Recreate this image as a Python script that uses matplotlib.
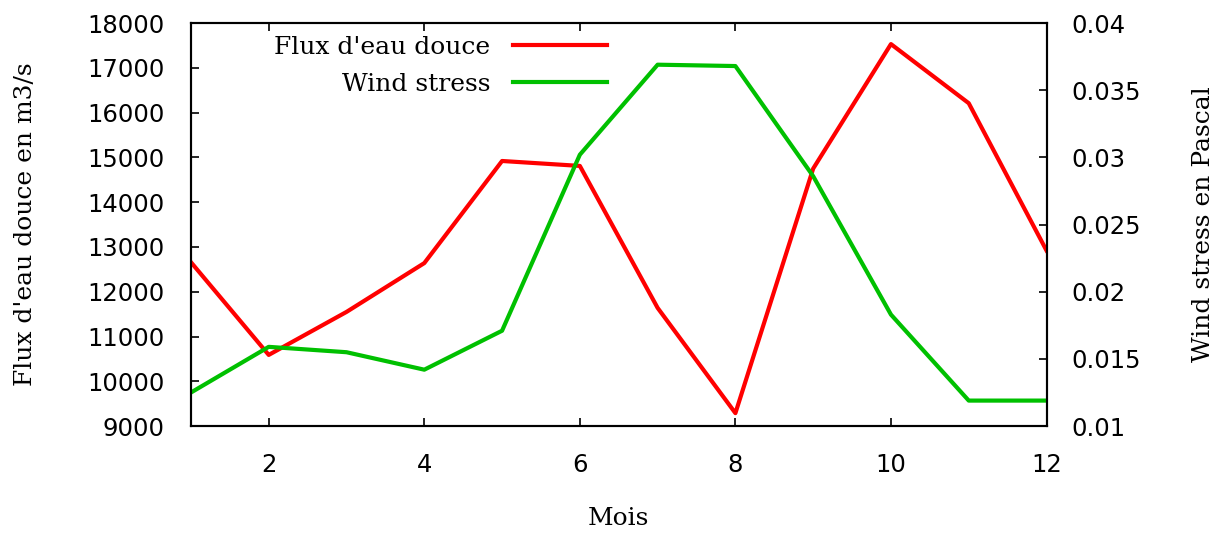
"""Flux d'eau douce et wind stress par mois (deux axes y)"""
import matplotlib
matplotlib.use('Agg')
import matplotlib.pyplot as plt

mois = [1, 2, 3, 4, 5, 6, 7, 8, 9, 10, 11, 12]
flux = [12660, 10590, 11550, 12640, 14920, 14810, 11640, 9290, 14750, 17530, 16210, 12920]
wind = [0.0125, 0.0159, 0.0155, 0.0142, 0.0171, 0.0302, 0.0369, 0.0368, 0.0286, 0.0183, 0.0119, 0.0119]

x_ticks = [2, 4, 6, 8, 10, 12]
flux_ticks = list(range(9000, 18001, 1000))
wind_ticks = [0.01, 0.015, 0.02, 0.025, 0.03, 0.035, 0.04]
wind_labels = ["0.01", "0.015", "0.02", "0.025", "0.03", "0.035", "0.04"]

serif = "DejaVu Serif"
tick_size = 17.5
label_size = 18

fig = plt.figure(figsize=(12.24, 5.36), dpi=100)
ax = fig.add_axes([0.156, 0.205, 0.699, 0.752])
ax2 = ax.twinx()

l1, = ax.plot(mois, flux, color="#ff0000", lw=3, label="Flux d'eau douce")
l2, = ax2.plot(mois, wind, color="#00c000", lw=3, label="Wind stress")

ax.set_xlim(1, 12)
ax.set_ylim(9000, 18000)
ax2.set_ylim(0.01, 0.04)
ax.set_xticks(x_ticks)
ax.set_yticks(flux_ticks)
ax2.set_yticks(wind_ticks)
ax2.set_yticklabels(wind_labels)

ax.tick_params(direction="in", length=6, width=1.2, labelsize=tick_size, top=True, pad=19)
ax.tick_params(axis="x", pad=19)
ax2.tick_params(direction="in", length=6, width=1.2, labelsize=tick_size, pad=18)
for a in (ax, ax2):
    for s in a.spines.values():
        s.set_linewidth(1.5)

ax.set_xlabel("Mois", fontsize=label_size, family=serif, va="center")
ax.set_ylabel("Flux d'eau douce en m3/s", fontsize=label_size, family=serif, va="center")
ax2.set_ylabel("Wind stress en Pascal", fontsize=label_size, family=serif, va="center")
ax.xaxis.set_label_coords(0.5, -0.228)
ax.yaxis.set_label_coords(-0.193, 0.5)
ax2.yaxis.set_label_coords(1.183, 0.5)

ax.legend(handles=[l1, l2], loc="upper right", bbox_to_anchor=(0.4865, 0.968),
          frameon=False, markerfirst=False, handlelength=3.76, handletextpad=0.92,
          labelspacing=0.56, borderaxespad=0, borderpad=0,
          prop={"family": serif, "size": label_size})

fig.savefig("out.png", dpi=100)
